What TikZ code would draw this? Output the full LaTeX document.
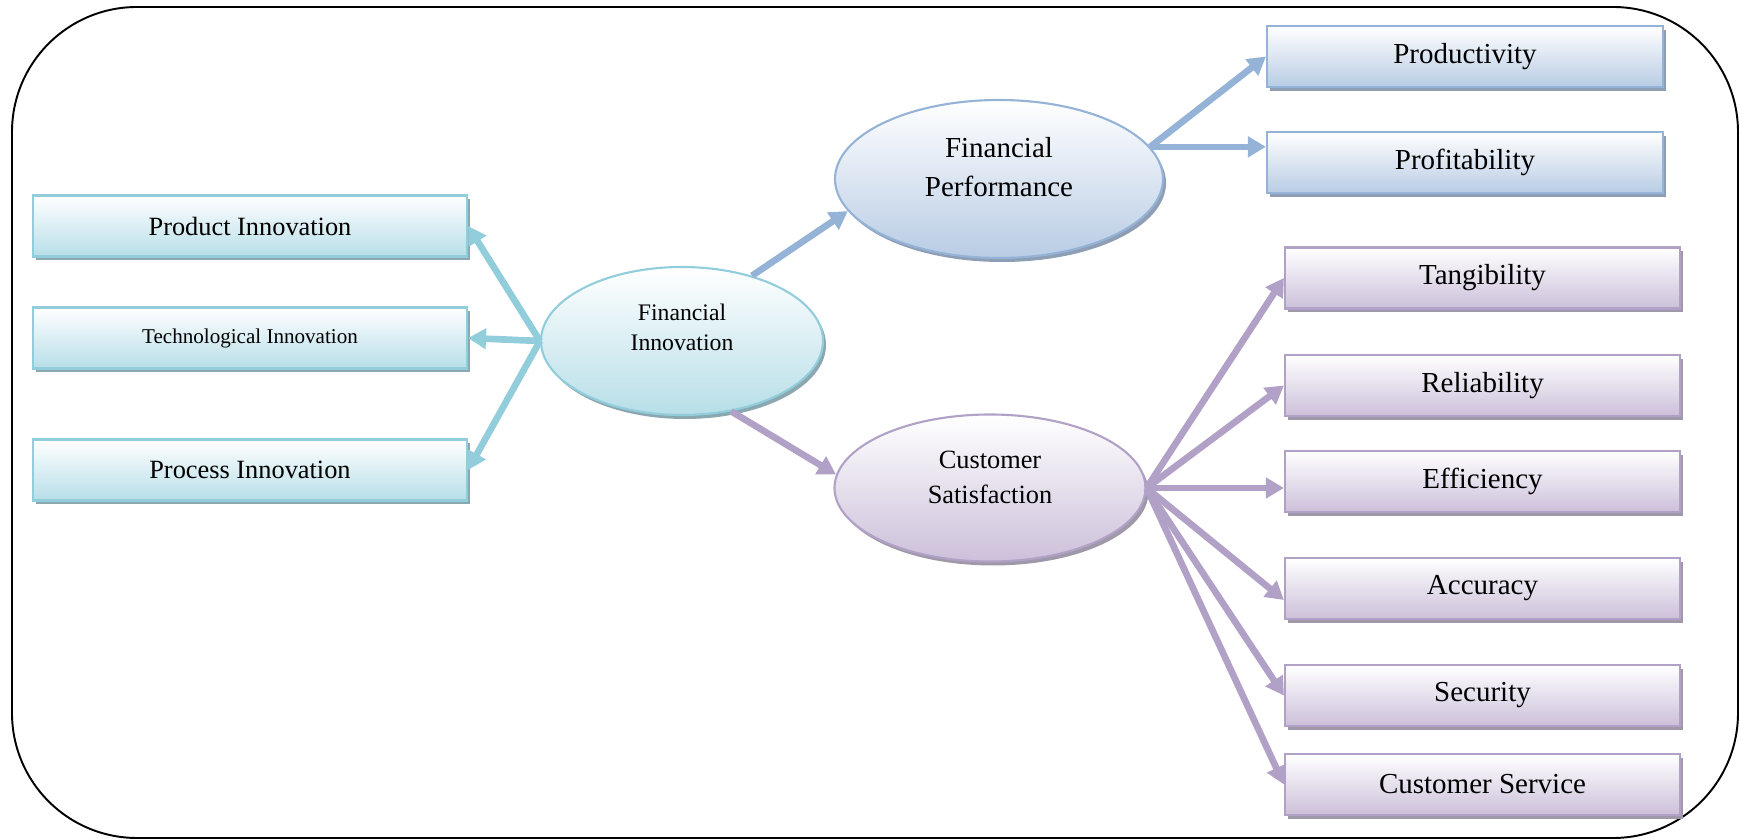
\documentclass[tikz,border=0pt]{standalone}
\usepackage{fontspec}
\setmainfont{Liberation Serif}
\usetikzlibrary{calc,positioning,shapes.geometric,shadows,arrows.meta}

\definecolor{aqualine}{HTML}{92CDDC}
\definecolor{aquafill}{HTML}{B7DEE8}
\definecolor{aquashadow}{HTML}{8BA8B0}
\definecolor{blueline}{HTML}{95B3D7}
\definecolor{bluefill}{HTML}{B8CCE4}
\definecolor{blueshadow}{HTML}{8E9EB4}
\definecolor{lilacline}{HTML}{B2A1C7}
\definecolor{lilacfill}{HTML}{CCC0DA}
\definecolor{lilacshadow}{HTML}{9E98A8}

\begin{document}
\begin{tikzpicture}[
    >={Triangle[length=0.36cm,width=0.4cm]},
    box/.style={draw,rectangle,line width=1.2pt,minimum height=1.22cm,align=center},
    oval/.style={draw,ellipse,line width=1.2pt},
    aqua/.style={draw=aqualine,top color=white,bottom color=aquafill,
      general shadow={fill=aquashadow,shadow xshift=0.06cm,shadow yshift=-0.08cm}},
    bluish/.style={draw=blueline,top color=white,bottom color=bluefill,
      general shadow={fill=blueshadow,shadow xshift=0.06cm,shadow yshift=-0.08cm}},
    lilac/.style={draw=lilacline,top color=white,bottom color=lilacfill,
      general shadow={fill=lilacshadow,shadow xshift=0.06cm,shadow yshift=-0.08cm}},
    link/.style={->,line width=3.8pt}
  ]

  \useasboundingbox (0,0) rectangle (34.8,16.8);

  % outer frame
  \draw[line width=1.1pt,rounded corners=2.5cm] (0.24,0.04) rectangle (34.76,16.66);

  % innovation side
  \node [box,aqua,minimum width=8.68cm,font=\fontsize{15}{18}\selectfont] at(5.0,12.28) (product_innov) {Product Innovation};
  \node [box,aqua,minimum width=8.68cm,font=\fontsize{12}{14}\selectfont] at(5.0,10.04) (tech_innov) {Technological Innovation};
  \node [box,aqua,minimum width=8.68cm,font=\fontsize{15}{18}\selectfont] at(5.0,7.40) (process_innov) {Process Innovation};

  \node [oval,aqua,minimum width=5.64cm,minimum height=2.96cm] at(13.64,9.98) (fin_innov) {};
  \node [align=center,font=\fontsize{13.5}{17}\selectfont] at($(fin_innov)+(0,0.28)$) (fin_innov_text) {Financial\\Innovation};

  % performance side
  \node [oval,bluish,minimum width=6.56cm,minimum height=3.16cm] at(19.98,13.22) (fin_perf) {};
  \node [align=center,font=\fontsize{16.5}{22}\selectfont] at($(fin_perf)+(0,0.24)$) (fin_perf_text) {Financial\\Performance};

  \node [box,bluish,minimum width=7.92cm,font=\fontsize{16.5}{20}\selectfont] at(29.30,15.67) (productivity) {Productivity};
  \node [box,bluish,minimum width=7.92cm,font=\fontsize{16.5}{20}\selectfont] at(29.30,13.55) (profitability) {Profitability};

  % satisfaction side
  \node [oval,lilac,minimum width=6.22cm,minimum height=2.94cm] at(19.80,7.04) (cust_sat) {};
  \node [align=center,font=\fontsize{15}{20}\selectfont] at($(cust_sat)+(0,0.22)$) (cust_sat_text) {Customer\\Satisfaction};

  \foreach \name/\ypos/\txt in {tangib/11.24/Tangibility,reliab/9.09/Reliability,
      effic/7.17/Efficiency,accur/5.03/Accuracy,secur/2.89/Security,cust_serv/1.11/Customer Service}{
    \node [box,lilac,minimum width=7.90cm,font=\fontsize{16.5}{20}\selectfont] at(29.65,\ypos) (\name) {\txt};
  }

  % connectors
  \draw[link,aqualine] (fin_innov.west) -- (product_innov.east);
  \draw[link,aqualine] (fin_innov.west) -- (tech_innov.east);
  \draw[link,aqualine] (fin_innov.west) -- (process_innov.east);

  \draw[link,blueline] (fin_innov.43) -- (fin_perf.192);
  \draw[link,lilacline] (fin_innov.305) -- (cust_sat.175);

  \draw[link,blueline] (fin_perf.12) -- (productivity.west);
  \draw[link,blueline] (fin_perf.12) -- (fin_perf.12 -| profitability.west);

  \foreach \name in {tangib,reliab,secur,cust_serv}{
    \draw[link,lilacline] (cust_sat.east) -- (\name.west);
  }
  \draw[link,lilacline] (cust_sat.east) -- (cust_sat.east -| effic.west);
  \draw[link,lilacline] (cust_sat.east) -- ($(accur.west)+(0,-0.23)$);

\end{tikzpicture}
\end{document}
